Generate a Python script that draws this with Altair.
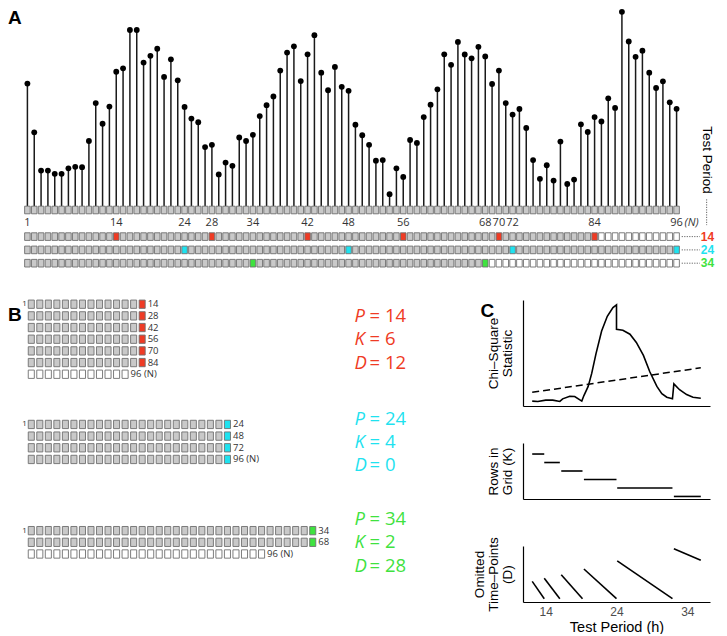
import altair as alt
import pandas as pd

# ---------------- data: panel A ----------------
signal = [
    64, 38.5, 18.5, 18.5, 16.8, 16.8, 19.7, 20.5, 20.3, 34,
    53.8, 43, 52, 70.2, 72, 92, 92, 75, 78.5, 82.2,
    67.5, 76.7, 65.7, 51.8, 45.7, 43.8, 30.8, 32, 16.5, 22.7,
    21, 35.8, 34, 37.2, 47, 52.7, 57.3, 70.8, 80.2, 83.5,
    65.3, 79.3, 89.3, 69.7, 60.5, 72.7, 62.3, 60.2, 42.5, 37,
    32, 23.7, 24, 6.2, 19.7, 15.2, 34.5, 33, 46.5, 53,
    61, 79.3, 73.8, 85.8, 79.2, 77.2, 83.2, 78.2, 63.8, 70.8,
    53.8, 47.8, 50.7, 40.8, 24, 14.2, 21.3, 13.3, 33.7, 11.5,
    13.8, 42.7, 38.7, 46.5, 44.2, 56.3, 51.3, 101.5, 86, 78,
    81.2, 69.7, 61.7, 65.2, 54.2, 50.8,
]
N_POINTS = len(signal)
tick_points = [1, 14, 24, 28, 34, 42, 48, 56, 68, 70, 72, 84, 96]
test_periods = [14, 24, 34]
period_hits = {14: [14, 28, 42, 56, 70, 84], 24: [24, 48, 72, 96], 34: [34, 68]}
grid_rows = {14: 6, 24: 4, 34: 2}        # K
grid_omitted = {14: 12, 24: 0, 34: 28}   # D

# ---------------- data: panel C ----------------
chi_period = [12.1, 12.9, 14.0, 15.0, 16.0, 16.4, 17.4, 18.1, 19.1, 19.4,
              20.0, 20.5, 21.1, 21.9, 22.7, 23.5, 24.0, 24.0, 24.9, 25.9,
              26.8, 27.8, 28.7, 29.7, 30.4, 31.1, 31.9, 32.1, 32.9, 33.9,
              34.8, 35.9]
chi_stat = [15, 14, 18, 18, 14, 22, 30, 29, 15, 32,
            60, 100, 160, 230, 275, 302, 310, 235, 232, 220,
            195, 155, 105, 60, 38, 27, 22, 68, 50, 35,
            27, 24]
crit_period = [12.1, 35.9]
crit_stat = [42, 117]
seg_start = [12.1, 13.8, 16.2, 19.4, 24.1, 32.1]
seg_end = [13.8, 16.0, 19.2, 24.0, 31.9, 35.9]
rows_k = [7, 6, 5, 4, 3, 2]
omit_from = [11, 13, 15.2, 18.8, 24, 31.7]
omit_to = [0, 0, 0, 0, 0, 24.4]

# ---------------- styles ----------------
RED, CYAN, GREEN = "#ef3b24", "#1fe2ef", "#3fe23f"
LIGHT = ["#ff8a8a", "#9292f2", "#acf08e"]
GRAY_FILL, BOX_STROKE = "#c9c9c9", "#6f6f6f"
BOX = "M-0.73,-1H0.73V1H-0.73Z"
state_domain = ["used", "omitted", "hit14", "hit24", "hit34"]
state_range = [GRAY_FILL, "#ffffff", RED, CYAN, GREEN]
SANS = "Liberation Sans"
SMALL = "Open Sans"
LETTER = dict(fontSize=19, fontWeight="bold", font=SANS, color="black")

# ================= Panel A =================
xA = alt.X("t:Q", scale=alt.Scale(domain=[-1.84, 96.5], nice=False, zero=False), axis=None)
vScale = alt.Scale(domain=[0, 103], range=[197, 0], nice=False, zero=False)
yV = alt.Y("v:Q", scale=vScale, axis=None)
row_domain = ["N", "lab", "14", "24", "34"]
rScale = alt.Scale(type="point", domain=row_domain, range=[201, 254.2], padding=0)
yR = alt.Y("row:N", scale=rScale, axis=None)

lol = pd.DataFrame({"t": list(range(1, N_POINTS + 1)), "v": signal})
stems = alt.Chart(lol).mark_rule(color="#1a1a1a", strokeWidth=1.5).encode(
    x=xA, y=yV, y2=alt.datum(0))
dots = alt.Chart(lol).mark_circle(size=34, color="black", opacity=1).encode(x=xA, y=yV)

box_rows = []
for t in range(1, N_POINTS + 1):
    box_rows.append({"t": t, "row": "N", "state": "used"})
for P in test_periods:
    used = grid_rows[P] * P
    for t in range(1, N_POINTS + 1):
        if t in period_hits[P]:
            s = f"hit{P}"
        elif t <= used:
            s = "used"
        else:
            s = "omitted"
        box_rows.append({"t": t, "row": str(P), "state": s})
boxA = pd.DataFrame(box_rows)
boxesA = alt.Chart(boxA).mark_point(
    shape=BOX, filled=True, size=58, stroke=BOX_STROKE, strokeWidth=0.9, opacity=1
).encode(
    x=xA, y=yR,
    fill=alt.Fill("state:N", scale=alt.Scale(domain=state_domain, range=state_range), legend=None),
)

labA = pd.DataFrame({"t": tick_points, "row": "lab", "label": [str(v) for v in tick_points]})
labelsA = alt.Chart(labA).mark_text(font=SMALL, fontSize=11, color="#333333", baseline="middle").encode(
    x=xA, y=yR, text="label:N")
nlab = alt.Chart(pd.DataFrame({"t": [N_POINTS], "row": ["lab"], "label": ["(N)"]})).mark_text(
    font=SMALL, fontSize=11, color="#333333", align="left", dx=8, fontStyle="italic", baseline="middle"
).encode(x=xA, y=yR, text="label:N")

tp_rows = pd.DataFrame({"row": [str(p) for p in test_periods]})
conn = alt.Chart(tp_rows).mark_rule(strokeDash=[1.2, 1.3], color="#666666", strokeWidth=1).encode(
    x=alt.datum(96.75), x2=alt.datum(99.4), y=yR)
rlab = alt.Chart(tp_rows).mark_text(
    align="left", baseline="middle", fontWeight="bold", fontSize=12, font=SANS
).encode(
    x=alt.datum(99.55), y=yR, text="row:N",
    color=alt.Color("row:N", scale=alt.Scale(domain=["14", "24", "34"], range=[RED, CYAN, GREEN]), legend=None),
)
tp_text = alt.Chart(pd.DataFrame({"label": ["Test Period"]})).mark_text(
    angle=90, align="center", baseline="middle", fontSize=13.5, font=SANS, color="black"
).encode(
    x=alt.datum(100.4),
    y=alt.Y(datum=24.0, type="quantitative", scale=vScale, axis=None),
    text="label:N",
)
tp_line = alt.Chart(pd.DataFrame({"label": ["Test Period"]})).mark_rule(
    strokeDash=[1.2, 1.3], color="#666666", strokeWidth=1
).encode(
    x=alt.datum(100.4),
    y=alt.Y(datum=3.5, type="quantitative", scale=vScale, axis=None),
    y2=alt.datum(-10.0),
)
letterA = alt.Chart(pd.DataFrame({"label": ["A"]})).mark_text(
    align="left", baseline="top", **LETTER
).encode(
    x=alt.datum(-1.84),
    y=alt.Y(datum=103, type="quantitative", scale=vScale, axis=None),
    text="label:N",
)

panelA = alt.layer(stems, dots, boxesA, labelsA, nlab, conn, rlab, tp_text, tp_line, letterA).resolve_scale(
    y="independent"
).properties(width=672, height=258)

# ================= Panel B =================
block_start = {14: 0.0, 24: 10.3, 34: 19.4}
TEXT_COL = 38.9
xB = alt.X("col:Q", scale=alt.Scale(domain=[-1.73, 34.5], nice=False, zero=False), axis=None)
yB = alt.Y("slot:Q", scale=alt.Scale(domain=[-0.36, 22.0], reverse=True, nice=False, zero=False), axis=None)

cells, blabels, ones, texts = [], [], [], []
for P in test_periods:
    K, D, b = grid_rows[P], grid_omitted[P], block_start[P]
    for r in range(K):
        for c in range(1, P + 1):
            cells.append({"col": c, "slot": b + r, "state": f"hit{P}" if c == P else "used"})
        lab = str(P * (r + 1))
        if D == 0 and r == K - 1:
            lab += " (N)"
        blabels.append({"col": P, "slot": b + r, "label": lab})
    if D:
        for c in range(1, D + 1):
            cells.append({"col": c, "slot": b + K, "state": "omitted"})
        blabels.append({"col": D, "slot": b + K, "label": f"{N_POINTS} (N)"})
    ones.append({"col": 1, "slot": b, "label": "1"})
    nrows = K + (1 if D else 0)
    mid = b + (nrows - 1) / 2
    for off, letter, val in [(-2, "P", P), (0, "K", K), (2, "D", D)]:
        texts.append({"slot": mid + off, "letter": letter, "rest": f"= {val}", "P": str(P)})

cellB = alt.Chart(pd.DataFrame(cells)).mark_point(
    shape=BOX, filled=True, size=69, stroke=BOX_STROKE, strokeWidth=0.9, opacity=1
).encode(
    x=xB, y=yB,
    fill=alt.Fill("state:N", scale=alt.Scale(domain=state_domain, range=state_range), legend=None),
)
labB = alt.Chart(pd.DataFrame(blabels)).mark_text(
    align="left", baseline="middle", dx=5.5, fontSize=9.5, font=SMALL, color="#333333"
).encode(x=xB, y=yB, text="label:N")
oneB = alt.Chart(pd.DataFrame(ones)).mark_text(
    align="right", baseline="middle", dx=-4.5, fontSize=8, font=SMALL, color="#333333"
).encode(x=xB, y=yB, text="label:N")
tcolor = alt.Color("P:N", scale=alt.Scale(domain=["14", "24", "34"], range=[RED, CYAN, GREEN]), legend=None)
tdf = pd.DataFrame(texts)
letB = alt.Chart(tdf).mark_text(
    align="left", baseline="middle", fontSize=18.5, font=SMALL, fontStyle="italic"
).encode(x=alt.datum(TEXT_COL), y=yB, text="letter:N", color=tcolor)
restB = alt.Chart(tdf).mark_text(
    align="left", baseline="middle", fontSize=18.5, font=SMALL, dx=15
).encode(x=alt.datum(TEXT_COL), y=yB, text="rest:N", color=tcolor)
letterB = alt.Chart(pd.DataFrame({"label": ["B"]})).mark_text(
    align="left", baseline="middle", **LETTER
).encode(x=alt.datum(-1.73), y=alt.datum(0.95), text="label:N")

panelB = alt.layer(cellB, labB, oneB, letB, restB, letterB).properties(width=309, height=261)

# ================= Panel C =================
xCs = alt.Scale(domain=[10.8, 37.2], nice=False, zero=False)
ax_plain = alt.Axis(labels=False, ticks=False, title=None, grid=False, domainColor="black", domainWidth=1.2)


def yaxis(title):
    return alt.Axis(labels=False, ticks=False, grid=False, title=title, titleFont=SANS,
                    titleFontSize=13.5, titleFontWeight="normal", titleColor="black",
                    titlePadding=9, titleLineHeight=14, domainColor="black", domainWidth=1.2)


refdf = pd.DataFrame({"P": test_periods})


def refs():
    return alt.Chart(refdf).mark_rule(strokeWidth=1.3).encode(
        x=alt.X("P:Q", scale=xCs),
        color=alt.Color("P:N", scale=alt.Scale(domain=test_periods, range=LIGHT), legend=None),
    )


chidf = pd.DataFrame({"P": chi_period, "chi": chi_stat, "i": range(len(chi_period))})
critdf = pd.DataFrame({"P": crit_period, "chi": crit_stat})
yChi = alt.Scale(domain=[0, 325], nice=False, zero=False)
c1 = alt.layer(
    refs(),
    alt.Chart(critdf).mark_line(color="black", strokeWidth=1.5, strokeDash=[7, 4]).encode(
        x=alt.X("P:Q", scale=xCs), y=alt.Y("chi:Q", scale=yChi)),
    alt.Chart(chidf).mark_line(color="black", strokeWidth=1.6).encode(
        x=alt.X("P:Q", scale=xCs, axis=ax_plain),
        y=alt.Y("chi:Q", scale=yChi, axis=yaxis(["Chi\u2013Square", "Statistic"])),
        order="i:Q"),
    alt.Chart(pd.DataFrame({"label": ["C"]})).mark_text(align="left", baseline="middle", **LETTER).encode(
        x=alt.datum(4.8), y=alt.datum(292), text="label:N"),
).properties(width=187, height=106)

segdf = pd.DataFrame({"p0": seg_start, "p1": seg_end, "k": rows_k, "d0": omit_from, "d1": omit_to})
c2 = alt.layer(
    refs(),
    alt.Chart(segdf).mark_rule(color="black", strokeWidth=1.6).encode(
        x=alt.X("p0:Q", scale=xCs, axis=ax_plain), x2="p1:Q",
        y=alt.Y("k:Q", scale=alt.Scale(domain=[1.7, 8.3], nice=False, zero=False),
                axis=yaxis(["Rows in", "Grid (K)"]))),
).properties(width=187, height=56)

c3 = alt.layer(
    refs(),
    alt.Chart(segdf).mark_rule(color="black", strokeWidth=1.6).encode(
        x=alt.X("p0:Q", scale=xCs, axis=alt.Axis(
            values=test_periods, ticks=False, grid=False, labelPadding=4, labelFontSize=12,
            labelFont=SANS, labelColor="#4d4d4d", title="Test Period (h)", titleFont=SANS,
            titleFontSize=14.5, titleFontWeight="normal", titleColor="black", titlePadding=3,
            domainColor="black", domainWidth=1.2)),
        x2="p1:Q",
        y=alt.Y("d0:Q", scale=alt.Scale(domain=[-2.1, 33.4], nice=False, zero=False),
                axis=yaxis(["Omitted", "Time\u2013Points", "(D)"])),
        y2="d1:Q"),
).properties(width=187, height=56)

panelC = alt.vconcat(c1, c2, c3, spacing=37)

chart = alt.vconcat(
    panelA,
    alt.hconcat(panelB, panelC, spacing=65),
    spacing=28,
).properties(padding=0).configure_view(stroke=None)

chart.save("out.html", embed_options={"renderer": "svg", "actions": False})
